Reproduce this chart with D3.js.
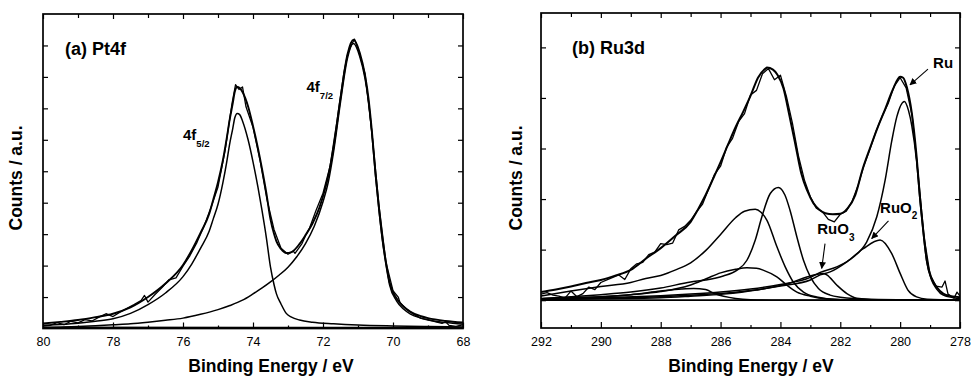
<!DOCTYPE html>
<html><head><meta charset="utf-8">
<script src="https://cdn.jsdelivr.net/npm/d3@7"></script>
<style>
body{margin:0;background:#fff;}
svg text{font-family:"Liberation Sans",Arial,Helvetica,sans-serif;fill:#000;}
</style></head><body>
<svg id="chart" width="972" height="380"></svg>
<script>
// ---------- Panel (a) Pt4f : [binding energy (eV), counts (a.u.)] ----------
const ptRaw=[[80.0,0.8],[79.8,1.0],[79.6,1.9],[79.4,1.2],[79.2,2.3],[79.0,1.8],[78.8,2.8],[78.6,2.4],[78.4,3.6],[78.2,4.7],[78.0,3.8],[77.8,5.2],[77.6,6.4],[77.4,7.6],[77.2,8.9],[77.1,10.5],[77.0,8.4],[76.8,10.8],[76.6,13.0],[76.4,15.5],[76.2,16.1],[76.0,19.8],[75.8,23.2],[75.6,27.4],[75.4,32.5],[75.2,38.5],[75.0,45.0],[74.8,56.5],[74.6,71.5],[74.5,77.5],[74.4,76.0],[74.3,76.8],[74.2,70.5],[74.0,64.0],[73.8,53.5],[73.6,41.0],[73.4,31.5],[73.2,25.5],[73.0,23.6],[72.85,24.6],[72.8,23.9],[72.6,27.0],[72.5,29.5],[72.4,31.5],[72.2,37.5],[72.0,43.0],[71.8,51.5],[71.6,66.0],[71.4,81.5],[71.3,87.0],[71.2,90.0],[71.1,92.0],[71.0,89.0],[70.8,81.0],[70.6,62.0],[70.4,39.0],[70.2,21.0],[70.0,12.0],[69.85,10.0],[69.8,8.2],[69.6,6.0],[69.4,4.5],[69.2,3.2],[69.0,2.8],[68.8,2.2],[68.6,1.6],[68.5,2.2],[68.4,1.0],[68.2,0.7],[68.0,1.2]];
const ptEnvelope=[[80,1.6],[79.5,2.1],[79,2.7],[78.5,3.6],[78,4.7],[77.5,6.7],[77,10.0],[76.5,14.3],[76,20.2],[75.75,24.9],[75.5,30.4],[75.25,36.5],[75.14,40.8],[75,46.5],[74.86,53.5],[74.75,60.5],[74.67,66.2],[74.58,71.5],[74.52,75.3],[74.45,76.8],[74.38,76.5],[74.3,75.2],[74.14,70.6],[74.0,64.4],[73.86,57.4],[73.75,51.2],[73.62,43.2],[73.5,34.7],[73.4,30.1],[73.33,27.7],[73.2,25.3],[73.05,24.0],[72.9,24.3],[72.67,26.9],[72.5,29.7],[72.3,33.4],[72.1,38.5],[71.95,44],[71.85,48.5],[71.7,57.5],[71.5,73.3],[71.3,87.2],[71.13,91.8],[70.95,87.7],[70.8,80.6],[70.7,73.2],[70.6,62.4],[70.5,49.4],[70.4,38.3],[70.3,28.6],[70.2,21.0],[70.1,14.8],[69.9,9.6],[69.7,7.0],[69.5,5.3],[69.2,3.9],[69.0,3.3],[68.5,2.4],[68,1.9]];
const pt4f52=[[80,1.0],[79.5,1.3],[79,1.7],[78.5,2.3],[78,3.1],[77.5,4.8],[77,7.6],[76.5,11.3],[76,16.5],[75.75,20.5],[75.5,25.5],[75.25,31],[75.14,34.7],[75,39.5],[74.86,46.4],[74.75,53],[74.67,58.5],[74.58,63.5],[74.52,67],[74.45,68.4],[74.38,68.0],[74.3,66],[74.14,60],[74.0,53],[73.86,45],[73.75,38],[73.62,29],[73.5,19.5],[73.4,14],[73.33,11],[73.2,7.8],[73.05,4.8],[72.9,3.6],[72.67,2.7],[72.3,2.0],[71.7,1.5],[71,1.1],[70,0.8],[69,0.6],[68,0.5]];
const pt4f72=[[80,0.2],[79.5,0.4],[79,0.6],[78.5,0.9],[78,1.2],[77.5,1.5],[77,2.0],[76.5,2.6],[76,3.3],[75.5,4.5],[75,6.0],[74.66,7.3],[74.3,9.0],[74.0,11.0],[73.75,12.8],[73.5,14.8],[73.25,17.0],[73.0,19.5],[72.75,22.8],[72.5,27],[72.25,32.5],[72.0,40.3],[71.85,46.5],[71.7,56],[71.5,72],[71.3,86],[71.13,90.6],[70.95,86.5],[70.8,79.5],[70.7,72.2],[70.6,61.5],[70.5,48.5],[70.4,37.5],[70.3,27.8],[70.2,20.2],[70.1,14.0],[69.9,8.8],[69.7,6.2],[69.5,4.6],[69.2,3.3],[69.0,2.7],[68.5,1.9],[68,1.4]];
const ptBackground=[[80,0.4],[68,0.3]];
const ptTicksMajor=[80,78,76,74,72,70,68];
const ptTicksMinor=[79,77,75,73,71,69];
const ptYTicks=[10,20,30,40,50,60,70,80,90];

// ---------- Panel (b) Ru3d ----------
const ruRaw=[[292.0,1.2],[291.8,1.5],[291.6,1.0],[291.4,0.8],[291.2,0.4],[291.0,1.8],[290.8,0.7],[290.6,1.3],[290.4,2.6],[290.2,2.1],[290.0,3.5],[289.8,4.0],[289.6,4.5],[289.4,5.0],[289.2,4.1],[289.0,6.2],[288.8,7.2],[288.6,7.5],[288.4,9.0],[288.2,9.5],[288.0,11.2],[287.8,11.0],[287.6,11.3],[287.4,13.9],[287.2,14.6],[287.0,15.8],[286.8,17.5],[286.6,19.0],[286.4,22.0],[286.2,24.9],[286.0,26.5],[285.8,30.2],[285.6,32.0],[285.4,35.3],[285.2,36.9],[285.0,40.6],[284.8,41.5],[284.6,44.8],[284.4,45.8],[284.2,43.6],[284.0,44.5],[283.8,40.3],[283.6,35.0],[283.4,28.6],[283.2,23.8],[283.0,20.4],[282.8,18.2],[282.6,17.5],[282.4,16.0],[282.2,15.5],[282.0,17.0],[281.8,17.6],[281.6,19.6],[281.4,22.8],[281.2,26.8],[281.0,30.0],[280.8,33.5],[280.6,36.4],[280.4,38.9],[280.2,42.3],[280.0,44.0],[279.8,42.0],[279.6,36.5],[279.4,25.0],[279.2,12.5],[279.0,5.0],[278.8,2.8],[278.6,2.6],[278.5,3.8],[278.4,1.2],[278.2,0.4],[278.1,1.6],[278.0,0.8]];
const ruEnvelope=[[292,1.6],[291.5,2.1],[291,2.7],[290.5,3.4],[290,4.0],[289.5,4.9],[289,6.0],[288.5,8.2],[288,10.3],[287.5,12.8],[287,15.5],[286.75,18.0],[286.5,20.8],[286.25,24.0],[286,27.3],[285.75,30.8],[285.5,34.2],[285.25,37.2],[285,40.4],[284.75,44.0],[284.5,45.8],[284.45,46.0],[284.25,45.6],[284.1,44.6],[283.9,41.9],[283.7,36.5],[283.5,30.8],[283.3,25.0],[283.1,21.6],[282.9,19.2],[282.7,17.9],[282.5,17.2],[282.25,17.0],[282,17.1],[281.75,18.2],[281.5,20.8],[281.25,26.0],[281,30.2],[280.75,34.2],[280.5,37.8],[280.25,41.6],[280,44.2],[279.9,44.0],[279.78,42.2],[279.61,37.0],[279.45,28.4],[279.34,20.5],[279.23,13.9],[279.11,7.9],[278.95,4.3],[278.78,2.6],[278.56,1.3],[278.3,0.8],[278,0.6]];
const ruMetal52=[[292,0.3],[290,0.5],[288,0.9],[287,1.2],[286,1.6],[285,2.2],[284,3.1],[283,4.5],[282.67,5.5],[282.12,6.6],[281.57,8.5],[281.12,11.5],[280.78,16.5],[280.5,23.8],[280.28,31.5],[280.11,36.3],[279.86,39.3],[279.72,37.5],[279.61,34.5],[279.45,27.5],[279.34,20],[279.23,13.5],[279.11,7.6],[278.95,4.0],[278.78,2.2],[278.56,1.0],[278,0.3]];
const ruO2_52=[[292,0.2],[290,0.4],[288,0.7],[287,1.0],[286,1.3],[285,1.9],[284,2.8],[283,4.0],[282.67,5.0],[282.34,5.6],[281.78,7.6],[281.23,10.2],[280.67,11.9],[280.28,9.2],[280.0,5.3],[279.74,2.0],[279.45,0.65],[279.1,0.2],[278,0]];
const ruO3_52=[[292,0.1],[290,0.3],[288,0.5],[287,0.8],[285.9,1.2],[284.8,2.0],[283.68,3.4],[283.12,4.6],[282.57,5.3],[282.45,5.0],[282.12,3.0],[281.78,1.3],[281.45,0.4],[280.5,0],[278,0]];
const ruMetal32=[[292,0.35],[291,0.7],[290,1.1],[289,1.6],[288,2.4],[287,3.6],[286.5,4.0],[285.91,4.8],[285.46,5.9],[285.12,7.9],[284.84,11.9],[284.62,16.5],[284.34,21.1],[284.07,22.3],[283.85,20.8],[283.68,17.8],[283.45,12.5],[283.23,7.9],[283.0,4.6],[282.73,2.3],[282.34,1.0],[282.0,0.6],[281,0.2],[278,0]];
const ruC1s=[[292,0.8],[291,1.8],[290,2.7],[289,3.5],[288.5,4.3],[288,4.9],[287.5,6.0],[287,7.4],[286.5,9.8],[286,13.0],[285.5,16.3],[285.2,17.6],[284.84,18.0],[284.65,17.4],[284.45,15.8],[284.12,10.6],[283.84,6.6],[283.57,3.6],[283.23,1.6],[282.79,0.65],[282,0.1],[278,0]];
const ruO2_32=[[292,0.2],[291,0.4],[290,0.7],[289,1.1],[288,1.7],[287,3.0],[286.46,4.3],[286,5.4],[285.5,6.1],[285.12,6.4],[284.8,6.3],[284.56,5.9],[284.12,4.6],[283.79,3.0],[283.45,1.6],[283,0.8],[282.5,0.3],[281.5,0.1],[278,0]];
const ruO3_32=[[292,0.3],[291,0.5],[290,0.7],[289,1.1],[288,1.8],[287.3,2.2],[286.9,2.3],[286.5,2.1],[286.2,1.3],[285.5,0.35],[285,0.1],[284,0],[278,0]];
const ruBaseline=[[292,0],[278,0]];
const ruTicksMajor=[292,290,288,286,284,282,280,278];
const ruTicksMinor=[291,289,287,285,283,281,279];
const ruYTicks=[0,10,20,30,40,50];

const svg=d3.select('#chart');
svg.append('rect').attr('width',972).attr('height',380).attr('fill','#fff');

function panel(cfg){
  const g=svg.append('g');
  const x=d3.scaleLinear().domain(cfg.xDomain).range([cfg.left,cfg.right]);
  const y=d3.scaleLinear().domain(cfg.yDomain).range([cfg.bottom,cfg.top]);
  const cid='clip'+cfg.id;
  svg.append('clipPath').attr('id',cid).append('rect')
    .attr('x',cfg.left).attr('y',cfg.top).attr('width',cfg.right-cfg.left).attr('height',cfg.bottom-cfg.top);
  const cg=g.append('g').attr('clip-path',`url(#${cid})`);
  cfg.series.forEach(s=>{
    const line=d3.line().x(d=>x(d[0])).y(d=>y(d[1])).curve(s.curve||d3.curveMonotoneX);
    cg.append('path').datum(s.data).attr('d',line).attr('fill','none')
      .attr('stroke','#000').attr('stroke-width',s.w||1.5).attr('stroke-linejoin','round');
  });
  const axStyle=sel=>{sel.select('.domain').remove();sel.selectAll('line').attr('stroke','#000').attr('stroke-width',1.2);};
  g.append('g').attr('transform',`translate(0,${cfg.bottom})`)
    .call(d3.axisBottom(x).tickValues(cfg.major).tickSize(-6).tickPadding(9).tickFormat(d3.format('d')))
    .call(axStyle).call(s=>s.selectAll('text').attr('font-size',12.5).attr('fill','#000').attr('font-family','Liberation Sans, Arial, sans-serif'));
  g.append('g').attr('transform',`translate(0,${cfg.bottom})`)
    .call(d3.axisBottom(x).tickValues(cfg.minor).tickSize(-3).tickFormat(()=>'')).call(axStyle);
  g.append('g').attr('transform',`translate(0,${cfg.top})`)
    .call(d3.axisTop(x).tickValues(cfg.major).tickSize(-5).tickFormat(()=>'')).call(axStyle);
  g.append('g').attr('transform',`translate(0,${cfg.top})`)
    .call(d3.axisTop(x).tickValues(cfg.minor).tickSize(-4).tickFormat(()=>'')).call(axStyle);
  g.append('g').attr('transform',`translate(${cfg.left},0)`)
    .call(d3.axisLeft(y).tickValues(cfg.yticks).tickSize(-5).tickFormat(()=>'')).call(axStyle);
  g.append('g').attr('transform',`translate(${cfg.right},0)`)
    .call(d3.axisRight(y).tickValues(cfg.yticks).tickSize(-5).tickFormat(()=>'')).call(axStyle);
  g.append('rect').attr('x',cfg.left).attr('y',cfg.top).attr('width',cfg.right-cfg.left).attr('height',cfg.bottom-cfg.top)
    .attr('fill','none').attr('stroke','#000').attr('stroke-width',1.7);
  g.append('text').attr('x',cfg.xTitleX).attr('y',372).attr('text-anchor','middle')
    .attr('font-size',17.5).attr('font-weight','bold').text('Binding Energy / eV');
  g.append('text').attr('transform',`translate(${cfg.yTitleX},178) rotate(-90)`).attr('text-anchor','middle')
    .attr('font-size',17.5).attr('font-weight','bold').text('Counts / a.u.');
  g.append('text').attr('x',cfg.left+cfg.titleDx).attr('y',cfg.top+41).attr('font-size',18).attr('font-weight','bold').text(cfg.title);
  return {g,x,y};
}

// Panel (a)
const A=panel({id:'a',left:43,right:463,top:14,bottom:328.5,xDomain:[80,68],yDomain:[0,100],
  major:ptTicksMajor,minor:ptTicksMinor,yticks:ptYTicks,xTitleX:271,yTitleX:22,title:'(a) Pt4f',titleDx:22,
  series:[{data:ptBackground,curve:d3.curveLinear},{data:pt4f52},{data:pt4f72},{data:ptEnvelope,w:1.9},{data:ptRaw,curve:d3.curveLinear,w:1.3}]});
function sublabel(g,x,y,main,sub,fs,sfs,dy){
  const t=g.append('text').attr('x',x).attr('y',y).attr('font-size',fs).attr('font-weight','bold');
  t.append('tspan').text(main);
  t.append('tspan').attr('dy',dy).attr('font-size',sfs).text(sub);
}
sublabel(A.g,183,140,'4f','5/2',15,9.5,6.5);
sublabel(A.g,306.5,92,'4f','7/2',15,9.5,6.5);

// Panel (b)
const B=panel({id:'b',left:541,right:960,top:13,bottom:328,xDomain:[292,278],yDomain:[-5.5,56.8],
  major:ruTicksMajor,minor:ruTicksMinor,yticks:ruYTicks,xTitleX:751,yTitleX:522,title:'(b) Ru3d',titleDx:31,
  series:[{data:ruBaseline,curve:d3.curveLinear,w:1.8},{data:ruO3_32},{data:ruO2_32},{data:ruC1s},{data:ruMetal32},
          {data:ruO3_52},{data:ruO2_52},{data:ruMetal52},{data:ruEnvelope,w:2},{data:ruRaw,curve:d3.curveLinear,w:1.3}]});
svg.append('defs').append('marker').attr('id','arr').attr('viewBox','0 0 10 10').attr('refX',9).attr('refY',5)
  .attr('markerWidth',7).attr('markerHeight',7).attr('markerUnits','userSpaceOnUse').attr('orient','auto')
  .append('path').attr('d','M0,0 L10,5 L0,10 Z').attr('fill','#000');
const ruArrows=[[[279.07,45.7],[279.67,42.6]],[[280.39,15.7],[280.95,12.2]],[[282.51,11.2],[282.62,6.3]]];
ruArrows.forEach(a=>{
  B.g.append('line').attr('x1',B.x(a[0][0])).attr('y1',B.y(a[0][1])).attr('x2',B.x(a[1][0])).attr('y2',B.y(a[1][1]))
    .attr('stroke','#000').attr('stroke-width',1.1).attr('marker-end','url(#arr)');
});
B.g.append('text').attr('x',B.x(278.9)).attr('y',B.y(45.9)).attr('font-size',15).attr('font-weight','bold').text('Ru');
sublabel(B.g,B.x(280.67),B.y(17.2),'RuO','2',15,10,5.5);
sublabel(B.g,B.x(282.77),B.y(13.1),'RuO','3',15,10,7);
</script>
</body></html>
